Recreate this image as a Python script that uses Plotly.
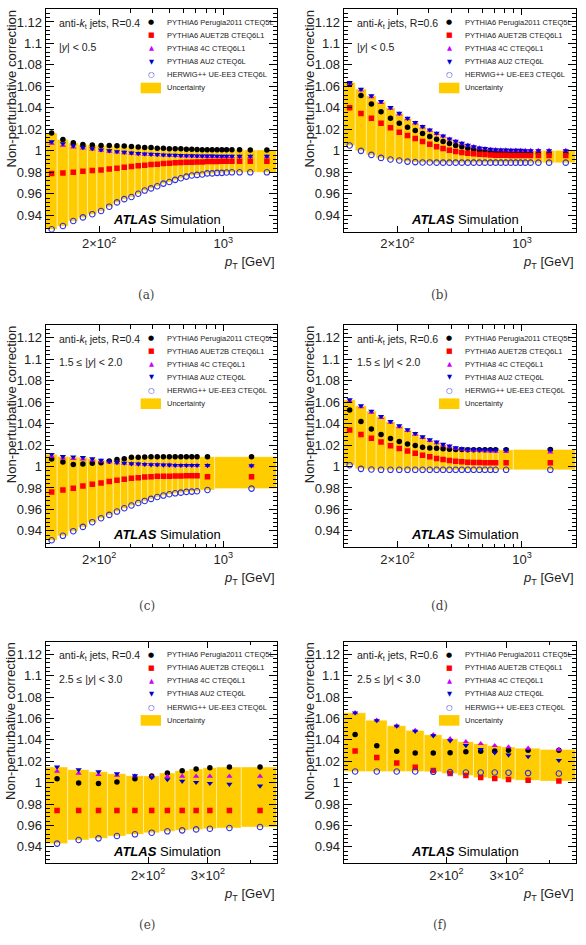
import math
import plotly.graph_objects as go

# ---------------- data ----------------
SERIES_NAMES = ["PYTHIA6 Perugia2011 CTEQ5L", "PYTHIA6 AUET2B CTEQ6L1",
                "PYTHIA8 4C CTEQ6L1", "PYTHIA8 AU2 CTEQ6L", "HERWIG++ UE-EE3 CTEQ6L"]

# pT bin edges [GeV]
edges_central = [100, 116, 134, 152, 172, 194, 216, 240, 264, 290, 318, 346, 376, 408, 442, 478,
                 516, 556, 598, 642, 688, 736, 786, 838, 894, 952, 1012, 1076, 1162, 1310, 1530, 1992]
edges_mid = [100, 116, 134, 152, 172, 194, 216, 240, 264, 290, 318, 346, 376, 408, 442, 478,
             516, 556, 598, 642, 688, 736, 894, 1992]
edges_fwd = [100, 116, 134, 152, 172, 194, 216, 240, 264, 290, 318, 376, 478]

# (a) R=0.4, |y|<0.5
a_perugia = [1.0165, 1.0105, 1.0075, 1.006, 1.0055, 1.005, 1.005, 1.0048, 1.0045, 1.004,
             1.0035, 1.003, 1.003, 1.0025, 1.0025, 1.002, 1.002, 1.002, 1.0015, 1.0015,
             1.0012, 1.001, 1.001, 1.001, 1.001, 1.001, 1.001, 1.001, 1.001, 1.0008, 1.0008]
a_auet2b = [0.9788, 0.9794, 0.9801, 0.981, 0.9816, 0.9822, 0.9832, 0.9838, 0.9847, 0.9853,
            0.986, 0.9866, 0.9872, 0.9875, 0.9882, 0.9885, 0.9888, 0.9891, 0.9894, 0.9894,
            0.9897, 0.9897, 0.99, 0.99, 0.99, 0.9903, 0.9903, 0.9903, 0.9903, 0.9903, 0.9903]
a_4c = [1.007, 1.005, 1.0035, 1.0025, 1.0015, 1.0005, 0.9995, 0.9988, 0.9982, 0.9977,
        0.9972, 0.9968, 0.9965, 0.9962, 0.9959, 0.9957, 0.9955, 0.9953, 0.9951, 0.995,
        0.9949, 0.9948, 0.9947, 0.9947, 0.9946, 0.9946, 0.9945, 0.9945, 0.9945, 0.9944, 0.9944]
a_au2 = [1.0085, 1.0068, 1.0048, 1.0032, 1.0021, 1.001, 1.0001, 0.9993, 0.9987, 0.9981,
         0.9976, 0.9972, 0.9969, 0.9966, 0.9963, 0.9961, 0.9959, 0.9957, 0.9956, 0.9955,
         0.9954, 0.9953, 0.9952, 0.9952, 0.9951, 0.9951, 0.995, 0.995, 0.995, 0.995, 0.995]
a_herwig = [0.927, 0.930, 0.9347, 0.938, 0.941, 0.944, 0.948, 0.952, 0.955, 0.957,
            0.960, 0.963, 0.965, 0.967, 0.9695, 0.971, 0.973, 0.9745, 0.976, 0.977,
            0.9776, 0.978, 0.979, 0.979, 0.9795, 0.9795, 0.9798, 0.980, 0.980, 0.980, 0.980]

# (b) R=0.6, |y|<0.5
b_perugia = [1.0622, 1.0516, 1.0435, 1.0364, 1.0304, 1.0258, 1.022, 1.0189, 1.0161, 1.0133,
             1.0109, 1.0087, 1.0068, 1.005, 1.0037, 1.0025, 1.0015, 1.0006, 1.0, 0.9994,
             0.9991, 0.9988, 0.9984, 0.9984, 0.9981, 0.9981, 0.9981, 0.9981, 0.9978, 0.9978, 0.9978]
b_auet2b = [1.0401, 1.0348, 1.0304, 1.0258, 1.0214, 1.0174, 1.0143, 1.0115, 1.0087, 1.0062,
            1.0037, 1.0022, 1.0006, 0.9994, 0.9984, 0.9978, 0.9972, 0.9969, 0.9966, 0.9962,
            0.9959, 0.9959, 0.9959, 0.9956, 0.9956, 0.9956, 0.9956, 0.9956, 0.9956, 0.9956, 0.9956]
b_4c = [1.0625, 1.0565, 1.0503, 1.045, 1.0395, 1.0343, 1.0297, 1.0258, 1.0221, 1.0191,
        1.016, 1.0136, 1.0108, 1.0087, 1.0068, 1.0051, 1.0038, 1.0026, 1.002, 1.0013,
        1.001, 1.0008, 1.0007, 1.0005, 1.0005, 1.0004, 1.0002, 1.0002, 1.0002, 1.0002, 1.0002]
b_au2 = [1.0637, 1.0575, 1.0513, 1.046, 1.0404, 1.0351, 1.0304, 1.0264, 1.0227, 1.0196,
         1.0165, 1.014, 1.0112, 1.009, 1.0071, 1.0053, 1.004, 1.0028, 1.0022, 1.0015,
         1.0012, 1.0009, 1.0009, 1.0006, 1.0006, 1.0006, 1.0003, 1.0003, 1.0003, 1.0003, 1.0003]
b_herwig = [1.005, 1.0, 0.9962, 0.9934, 0.9919, 0.991, 0.99, 0.9895, 0.9892, 0.9892,
            0.989, 0.989, 0.989, 0.989, 0.989, 0.989, 0.989, 0.989, 0.989, 0.989,
            0.989, 0.989, 0.989, 0.989, 0.989, 0.989, 0.989, 0.989, 0.989, 0.989, 0.989]

# (c) R=0.4, 1.5<=|y|<2.0
c_perugia = [1.007, 1.0041, 1.0019, 1.0022, 1.0029, 1.0035, 1.0051, 1.0066, 1.0072, 1.0085,
             1.0085, 1.0088, 1.0091, 1.0091, 1.0091, 1.0091, 1.0091, 1.0091, 1.0091, 1.0091,
             1.0091, 1.0091, 1.0091]
c_auet2b = [0.9763, 0.9781, 0.9797, 0.9818, 0.9834, 0.9846, 0.9859, 0.9871, 0.988, 0.989,
            0.9896, 0.9902, 0.9905, 0.9908, 0.991, 0.991, 0.9912, 0.9912, 0.9914, 0.9914,
            0.9914, 0.9905, 0.9905]
c_4c = [1.0095, 1.0078, 1.0072, 1.0068, 1.006, 1.005, 1.0042, 1.0034, 1.003, 1.0025,
        1.0022, 1.002, 1.0017, 1.0016, 1.0014, 1.0013, 1.0011, 1.001, 1.001, 1.001,
        1.001, 1.0009, 1.0006]
c_au2 = [1.0113, 1.0094, 1.009, 1.0085, 1.0072, 1.006, 1.0048, 1.0038, 1.0032, 1.0026,
         1.0023, 1.002, 1.0017, 1.0017, 1.0014, 1.0014, 1.0011, 1.0011, 1.0011, 1.0011,
         1.0011, 1.001, 1.0007]
c_herwig = [0.9313, 0.9354, 0.9397, 0.9437, 0.9481, 0.9518, 0.9549, 0.958, 0.9611, 0.9636,
            0.966, 0.9679, 0.9698, 0.9716, 0.9729, 0.9741, 0.975, 0.9756, 0.9763, 0.9766,
            0.9769, 0.9781, 0.9794]

# (d) R=0.6, 1.5<=|y|<2.0
d_perugia = [1.0526, 1.042, 1.0349, 1.0297, 1.026, 1.0232, 1.021, 1.0195, 1.0179, 1.0173,
             1.017, 1.0164, 1.0161, 1.0158, 1.0158, 1.0155, 1.0155, 1.0155, 1.0155, 1.0155,
             1.0155, 1.0155, 1.0158]
d_auet2b = [1.034, 1.0297, 1.0263, 1.0229, 1.0192, 1.0167, 1.0145, 1.0124, 1.0105, 1.009,
            1.0074, 1.0065, 1.0056, 1.0049, 1.0043, 1.004, 1.0037, 1.0037, 1.0034, 1.0034,
            1.0034, 1.0034, 1.0034]
d_4c = [1.061, 1.0555, 1.0505, 1.0455, 1.041, 1.037, 1.0333, 1.03, 1.0268, 1.024,
        1.022, 1.0198, 1.0183, 1.0168, 1.016, 1.0153, 1.015, 1.0147, 1.0145, 1.0143,
        1.0141, 1.0138, 1.0133]
d_au2 = [1.0622, 1.0566, 1.0516, 1.0467, 1.042, 1.038, 1.0343, 1.0309, 1.0278, 1.025,
         1.0229, 1.0207, 1.0192, 1.0176, 1.0167, 1.0161, 1.0158, 1.0155, 1.0155, 1.0155,
         1.0155, 1.0155, 1.0155]
d_herwig = [1.0012, 0.9978, 0.9972, 0.9969, 0.9969, 0.9969, 0.9969, 0.9969, 0.9969, 0.9969,
            0.9969, 0.9969, 0.9969, 0.9969, 0.9969, 0.9969, 0.9969, 0.9969, 0.9969, 0.9969,
            0.9969, 0.9969, 0.9969]

# (e) R=0.4, 2.5<=|y|<3.0
e_perugia = [1.0038, 0.9998, 0.9992, 1.0007, 1.0038, 1.0063, 1.0091, 1.0113, 1.0128, 1.0141, 1.0147, 1.0147]
e_auet2b = [0.9741, 0.9741, 0.9741, 0.9741, 0.9741, 0.9741, 0.9741, 0.9741, 0.9741, 0.9741, 0.9741, 0.9741]
e_4c = [1.0106, 1.0088, 1.0075, 1.0069, 1.0063, 1.0054, 1.0057, 1.006, 1.006, 1.006, 1.006, 1.006]
e_au2 = [1.0147, 1.0122, 1.0103, 1.0085, 1.0066, 1.0048, 1.0029, 1.0014, 1.0004, 0.9995, 0.9986, 0.997]
e_herwig = [0.9431, 0.9465, 0.948, 0.9502, 0.9518, 0.9533, 0.9546, 0.9555, 0.9564, 0.957, 0.9577, 0.9586]

# (f) R=0.6, 2.5<=|y|<3.0
f_perugia = [1.0451, 1.0346, 1.0294, 1.0278, 1.0278, 1.0281, 1.029, 1.0294, 1.0297, 1.0303, 1.0303, 1.0303]
f_auet2b = [1.0297, 1.0235, 1.0185, 1.0145, 1.0114, 1.0086, 1.0068, 1.0049, 1.004, 1.0031, 1.0022, 1.0015]
f_4c = [1.0653, 1.0584, 1.0532, 1.0489, 1.0448, 1.0411, 1.0383, 1.0365, 1.0346, 1.0334, 1.0322, 1.031]
f_au2 = [1.0653, 1.0581, 1.0529, 1.0482, 1.0439, 1.0393, 1.0349, 1.0312, 1.0281, 1.026, 1.0244, 1.021]
f_herwig = [1.0105, 1.0105, 1.0105, 1.0105, 1.0102, 1.0099, 1.0096, 1.0096, 1.0096, 1.0093, 1.009, 1.0086]

jet_labels = ["R=0.4", "R=0.6", "R=0.4", "R=0.6", "R=0.4", "R=0.6"]
rap_labels = ["|<i>y</i>| &lt; 0.5", "|<i>y</i>| &lt; 0.5",
              "1.5 ≤ |<i>y</i>| &lt; 2.0", "1.5 ≤ |<i>y</i>| &lt; 2.0",
              "2.5 ≤ |<i>y</i>| &lt; 3.0", "2.5 ≤ |<i>y</i>| &lt; 3.0"]
captions = ["(a)", "(b)", "(c)", "(d)", "(e)", "(f)"]

y_tick_vals = [0.94, 0.96, 0.98, 1.0, 1.02, 1.04, 1.06, 1.08, 1.1, 1.12]
y_tick_text = ["0.94", "0.96", "0.98", "1", "1.02", "1.04", "1.06", "1.08", "1.1", "1.12"]
y_range = [0.9247, 1.1318]

x_ticks_wide = [200, 1000]
x_ticktext_wide = ["2×10<sup>2</sup>", "10<sup>3</sup>"]
x_minor_wide = [300, 400, 500, 600, 700, 800, 900, 2000]
x_range_wide = [100, 2000]
x_ticks_fwd = [200, 300]
x_ticktext_fwd = ["2×10<sup>2</sup>", "3×10<sup>2</sup>"]
x_minor_fwd = [400]
x_range_fwd = [100, 478]

panels = [
    (edges_central, [a_perugia, a_auet2b, a_4c, a_au2, a_herwig]),
    (edges_central, [b_perugia, b_auet2b, b_4c, b_au2, b_herwig]),
    (edges_mid, [c_perugia, c_auet2b, c_4c, c_au2, c_herwig]),
    (edges_mid, [d_perugia, d_auet2b, d_4c, d_au2, d_herwig]),
    (edges_fwd, [e_perugia, e_auet2b, e_4c, e_au2, e_herwig]),
    (edges_fwd, [f_perugia, f_auet2b, f_4c, f_au2, f_herwig]),
]

# ---------------- styling / layout ----------------
W, H = 586, 945
FONT = "Liberation Sans, Arial, Helvetica, sans-serif"
BAND = "#FFCC00"
MARKERS = [
    dict(symbol="circle", color="black", size=5.5),
    dict(symbol="square", color="#FF0000", size=5.5),
    dict(symbol="triangle-up", color="#CC00FF", size=5.5),
    dict(symbol="triangle-down", color="#0000CC", size=5.5),
    dict(symbol="circle-open", color="#3030E0", size=5.5, line=dict(width=1.1, color="#3030E0")),
]
GLYPHS = [("●", "black", 7), ("■", "#FF0000", 7), ("▲", "#CC00FF", 6.5),
          ("▼", "#0000CC", 6.5), ("○", "#3030E0", 7.5)]
COLS_PX = [(45.7, 276.7), (343.7, 575.6)]
ROWS_PX = [(9.3, 231.7), (325.0, 547.3), (641.7, 863.3)]
CAPTION_Y = [295, 606, 925]

fig = go.Figure()
layout = dict(width=W, height=H, margin=dict(l=0, r=0, t=0, b=0),
              paper_bgcolor="white", plot_bgcolor="white", showlegend=False,
              font=dict(family=FONT, color="black"))
annotations = []
shapes = []

for k, (edges, series) in enumerate(panels):
    r, c = divmod(k, 2)
    n = k + 1
    sfx = "" if n == 1 else str(n)
    xa, ya = "x" + sfx, "y" + sfx
    x0p, x1p = COLS_PX[c]
    y0p, y1p = ROWS_PX[r]
    wpx, hpx = x1p - x0p, y1p - y0p
    centers = [(edges[i] + edges[i + 1]) / 2 for i in range(len(edges) - 1)]

    # uncertainty band: envelope of the models, drawn per bin
    bx, by = [], []
    for i in range(len(centers)):
        lo = min(s[i] for s in series)
        hi = max(s[i] for s in series)
        e0, e1 = edges[i], edges[i + 1]
        bx += [e0, e0, e1, e1, e0, None]
        by += [lo, hi, hi, lo, lo, None]
    fig.add_trace(go.Scatter(x=bx, y=by, mode="lines", fill="toself", fillcolor=BAND,
                             line=dict(color="rgba(255,255,255,0.55)", width=0.7),
                             hoverinfo="skip", xaxis=xa, yaxis=ya, showlegend=False))
    for s, name, mk in zip(series, SERIES_NAMES, MARKERS):
        fig.add_trace(go.Scatter(x=centers, y=s, mode="markers", name=name, marker=mk,
                                 xaxis=xa, yaxis=ya, showlegend=False))

    fwd = (r == 2)
    xr = x_range_fwd if fwd else x_range_wide
    layout["xaxis" + sfx] = dict(
        type="log", domain=[x0p / W, x1p / W], anchor=ya,
        range=[math.log10(xr[0]), math.log10(xr[1])],
        showline=True, linecolor="black", linewidth=1, mirror="allticks",
        ticks="inside", ticklen=6, tickwidth=1, tickcolor="black",
        tickvals=x_ticks_fwd if fwd else x_ticks_wide,
        ticktext=x_ticktext_fwd if fwd else x_ticktext_wide,
        tickfont=dict(size=13, family=FONT, color="#222"),
        minor=dict(ticks="inside", ticklen=3.5, tickwidth=1, tickcolor="black",
                   tickvals=x_minor_fwd if fwd else x_minor_wide, showgrid=False),
        showgrid=False, zeroline=False)
    layout["yaxis" + sfx] = dict(
        domain=[1 - y1p / H, 1 - y0p / H], anchor=xa, range=y_range,
        showline=True, linecolor="black", linewidth=1, mirror="allticks",
        ticks="inside", ticklen=8, tickwidth=1, tickcolor="black",
        tickvals=y_tick_vals, ticktext=y_tick_text,
        tickfont=dict(size=13, family=FONT, color="#222"),
        minor=dict(ticks="inside", ticklen=4, tickwidth=1, tickcolor="black",
                   dtick=0.004, tick0=0.94, showgrid=False),
        showgrid=False, zeroline=False)

    xd, yd = xa + " domain", ya + " domain"

    def dom_y(off):
        return 1 - off / hpx

    annotations.append(dict(xref=xd, yref=yd, x=0.049, y=dom_y(14.7), xanchor="left", yanchor="middle",
                            text="anti-<i>k</i><sub>t</sub> jets, " + jet_labels[k], showarrow=False,
                            font=dict(size=10.5, family=FONT, color="#222")))
    annotations.append(dict(xref=xd, yref=yd, x=0.049, y=dom_y(37.4), xanchor="left", yanchor="middle",
                            text=rap_labels[k], showarrow=False,
                            font=dict(size=10.5, family=FONT, color="#222")))
    # legend drawn inside the frame
    for j in range(6):
        yy = dom_y(13.0 + 13.08 * j)
        label = SERIES_NAMES[j] if j < 5 else "Uncertainty"
        annotations.append(dict(xref=xd, yref=yd, x=0.516, y=yy, xanchor="left", yanchor="middle",
                                text=label, showarrow=False,
                                font=dict(size=7.5, family=FONT, color="#222")))
        if j < 5:
            g, col, sz = GLYPHS[j]
            annotations.append(dict(xref=xd, yref=yd, x=0.456, y=yy, xanchor="center", yanchor="middle",
                                    text=g, showarrow=False,
                                    font=dict(size=sz, family="DejaVu Sans", color=col)))
    shapes.append(dict(type="rect", xref=xd, yref=yd, x0=0.411, x1=0.499,
                       y0=dom_y(84.0), y1=dom_y(73.4), fillcolor=BAND, line=dict(width=0)))
    annotations.append(dict(xref=xd, yref=yd, x=0.523, y=dom_y(209.7), xanchor="center", yanchor="middle",
                            text="<b><i>ATLAS</i></b> Simulation", showarrow=False,
                            font=dict(size=13, family=FONT, color="black")))
    # axis titles
    annotations.append(dict(xref="paper", yref="paper", x=(x0p - 34.5) / W, y=1 - (y0p - 2) / H,
                            xanchor="center", yanchor="top", textangle=-90,
                            text="Non-perturbative correction", showarrow=False,
                            font=dict(size=13, family=FONT, color="#222")))
    annotations.append(dict(xref="paper", yref="paper", x=x1p / W, y=1 - (y1p + 31) / H,
                            xanchor="right", yanchor="middle",
                            text="<i>p</i><sub>T</sub> [GeV]", showarrow=False,
                            font=dict(size=13, family=FONT, color="#222")))
    annotations.append(dict(xref="paper", yref="paper", x=(146.5 + 293 * c) / W, y=1 - CAPTION_Y[r] / H,
                            xanchor="center", yanchor="middle", text=captions[k], showarrow=False,
                            font=dict(size=12, family="DejaVu Serif, Liberation Serif, serif", color="#444")))

layout["annotations"] = annotations
layout["shapes"] = shapes
fig.update_layout(**layout)
fig.write_html("out.html")
